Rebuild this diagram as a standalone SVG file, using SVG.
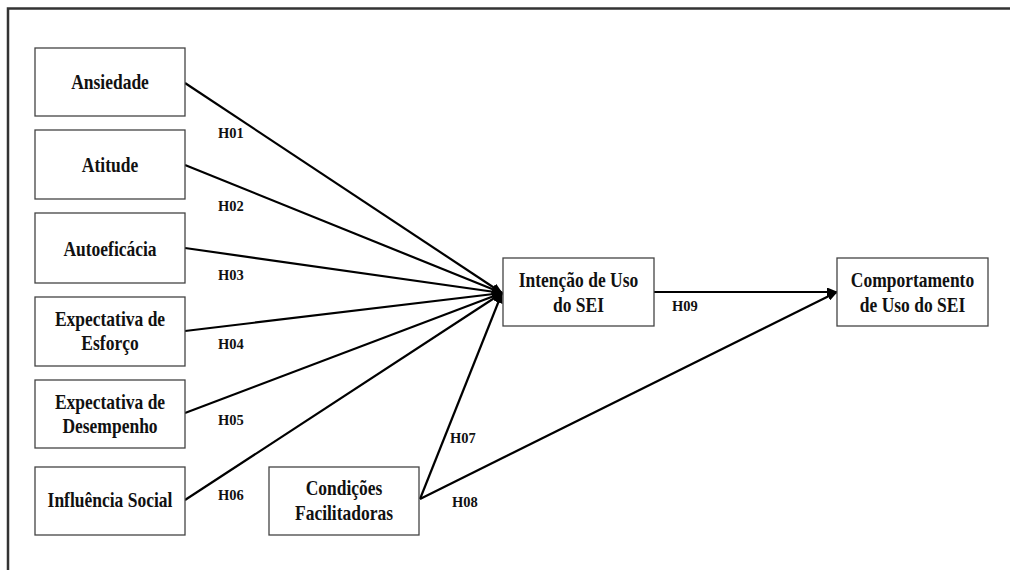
<svg xmlns="http://www.w3.org/2000/svg" width="1010" height="570" viewBox="0 0 1010 570">
  <defs>
    <marker id="arr" markerUnits="userSpaceOnUse" markerWidth="11" markerHeight="9" refX="10" refY="4.5" orient="auto">
      <path d="M0,0 L11,4.5 L0,9 z" fill="#000"/>
    </marker>
    <style>
      .box { fill: #fff; stroke: #444; stroke-width: 1.3; }
      .t { font-family: "Liberation Serif", "Times New Roman", serif; font-weight: bold; font-size: 17.5px; fill: #111; text-anchor: middle; }
      .h { font-family: "Liberation Serif", "Times New Roman", serif; font-weight: bold; font-size: 14.5px; fill: #111; }
      .ln { fill: none; stroke: #000; stroke-width: 2.2; marker-end: url(#arr); }
    </style>
  </defs>
  <rect width="1010" height="570" fill="#fff"/>
  <rect x="8" y="8.5" width="1010" height="580" fill="none" stroke="#333" stroke-width="2.5"/>

  <g id="connectors">
    <line class="ln" x1="185" y1="83" x2="502" y2="293"/>
    <line class="ln" x1="185" y1="165" x2="502" y2="293"/>
    <line class="ln" x1="185" y1="248" x2="502" y2="293"/>
    <line class="ln" x1="185" y1="331" x2="502" y2="293"/>
    <line class="ln" x1="185" y1="413" x2="502" y2="293"/>
    <line class="ln" x1="185" y1="500" x2="502" y2="293"/>
    <line class="ln" x1="420" y1="499" x2="502" y2="293"/>
    <line class="ln" x1="420" y1="499" x2="837" y2="292"/>
    <line class="ln" x1="654" y1="292" x2="837" y2="292"/>
    <text class="h" x="218" y="138">H01</text>
    <text class="h" x="218" y="211">H02</text>
    <text class="h" x="218" y="280">H03</text>
    <text class="h" x="218" y="349">H04</text>
    <text class="h" x="218" y="425">H05</text>
    <text class="h" x="218" y="500">H06</text>
    <text class="h" x="450" y="443">H07</text>
    <text class="h" x="452" y="507">H08</text>
    <text class="h" x="672" y="311">H09</text>
  </g>

  <g id="ansiedade">
    <rect class="box" x="35" y="48" width="150" height="68"/>
    <text class="t" transform="translate(110,89) scale(1,1.14)">Ansiedade</text>
  </g>
  <g id="atitude">
    <rect class="box" x="35" y="130" width="150" height="69"/>
    <text class="t" transform="translate(110,172) scale(1,1.14)">Atitude</text>
  </g>
  <g id="autoeficacia">
    <rect class="box" x="35" y="213" width="150" height="70"/>
    <text class="t" transform="translate(110,256) scale(1,1.14)">Autoeficácia</text>
  </g>
  <g id="esforco">
    <rect class="box" x="35" y="297" width="150" height="69"/>
    <text class="t" transform="translate(110,326) scale(1,1.14)">Expectativa de</text>
    <text class="t" transform="translate(110,350) scale(1,1.14)">Esforço</text>
  </g>
  <g id="desempenho">
    <rect class="box" x="35" y="380" width="150" height="68"/>
    <text class="t" transform="translate(110,409) scale(1,1.14)">Expectativa de</text>
    <text class="t" transform="translate(110,433) scale(1,1.14)">Desempenho</text>
  </g>
  <g id="influencia">
    <rect class="box" x="35" y="467" width="150" height="68"/>
    <text class="t" transform="translate(110,507) scale(1,1.14)">Influência Social</text>
  </g>
  <g id="condicoes">
    <rect class="box" x="269" y="467" width="150" height="68"/>
    <text class="t" transform="translate(344,495) scale(1,1.14)">Condições</text>
    <text class="t" transform="translate(344,520) scale(1,1.14)">Facilitadoras</text>
  </g>
  <g id="intencao">
    <rect class="box" x="503" y="258" width="151" height="68"/>
    <text class="t" transform="translate(578.5,287) scale(1,1.14)">Intenção de Uso</text>
    <text class="t" transform="translate(578.5,312) scale(1,1.14)">do SEI</text>
  </g>
  <g id="comportamento">
    <rect class="box" x="837" y="258" width="151" height="68"/>
    <text class="t" transform="translate(912.5,287) scale(1,1.14)">Comportamento</text>
    <text class="t" transform="translate(912.5,312) scale(1,1.14)">de Uso do SEI</text>
  </g>
</svg>
